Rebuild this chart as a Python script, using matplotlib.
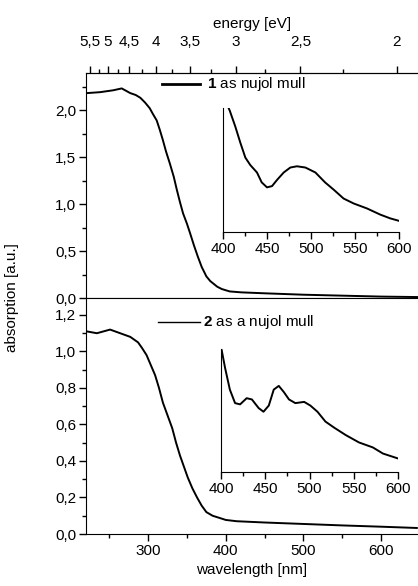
#!/usr/bin/env python
"""
Absorption spectra of 1 and 2 as nujol mulls, with energy axis on top
and zoomed insets of the visible region.
"""
import matplotlib
matplotlib.use('Agg')
import matplotlib.pyplot as plt
from matplotlib.ticker import MultipleLocator, FixedLocator, FuncFormatter

plt.rcParams['font.family'] = ['Liberation Sans', 'DejaVu Sans']
plt.rcParams['mathtext.fontset'] = 'custom'
plt.rcParams['mathtext.rm'] = 'Liberation Sans'
plt.rcParams['mathtext.bf'] = 'Liberation Sans:bold'

# compound 1, full spectrum
wl_1 = [221, 238, 255, 266, 277, 284, 290, 296, 302, 306, 311, 315, 319,
        323, 328, 333, 337, 341, 345, 350, 354, 359, 364, 369, 375, 380,
        389, 395, 405, 420, 450, 500, 550, 600, 648]
abs_1 = [2.18, 2.19, 2.21, 2.23, 2.18, 2.16, 2.13, 2.08, 2.02, 1.96, 1.89,
         1.79, 1.68, 1.56, 1.43, 1.29, 1.15, 1.02, 0.90, 0.79, 0.69, 0.56,
         0.44, 0.33, 0.23, 0.18, 0.12, 0.095, 0.07, 0.06, 0.05, 0.035, 0.025,
         0.015, 0.01]

# compound 1, inset 400-600 nm
wl_1i = [400, 407.6, 414, 419.7, 425.4, 431, 438.6, 444, 450, 455.7, 461.4,
         469, 476.5, 484, 493.6, 505, 516, 526, 537, 548.5, 563.6, 578.8,
         590, 600]
abs_1i = [1.10, 0.98, 0.85, 0.72, 0.60, 0.54, 0.48, 0.40, 0.36, 0.37, 0.42,
          0.48, 0.52, 0.53, 0.52, 0.48, 0.40, 0.34, 0.27, 0.23, 0.19, 0.14,
          0.11, 0.09]

# compound 2, full spectrum
wl_2 = [221, 234, 251, 264, 277, 287, 292, 298, 303, 309, 314, 319, 325,
        331, 336, 341, 346, 351, 357, 363, 369, 375, 383, 392, 400, 414,
        450, 500, 550, 600, 646]
abs_2 = [1.11, 1.10, 1.12, 1.10, 1.08, 1.05, 1.02, 0.98, 0.93, 0.87, 0.80,
         0.72, 0.65, 0.58, 0.50, 0.43, 0.37, 0.31, 0.25, 0.20, 0.155, 0.12,
         0.10, 0.088, 0.077, 0.07, 0.063, 0.055, 0.047, 0.04, 0.033]

# compound 2, inset 400-600 nm
wl_2i = [400.8, 404.5, 410, 415.9, 421.6, 429, 434.9, 442.5, 448, 454,
         459.6, 465.3, 471, 476.8, 484, 494, 501, 509, 518, 528, 541, 556,
         571.5, 583, 600]
abs_2i = [0.99, 0.85, 0.67, 0.56, 0.55, 0.60, 0.59, 0.52, 0.49, 0.54, 0.67,
          0.70, 0.65, 0.59, 0.56, 0.57, 0.54, 0.49, 0.41, 0.36, 0.30, 0.24,
          0.20, 0.15, 0.11]

energy_ticks = [5.5, 5, 4.5, 4, 3.5, 3, 2.5, 2]
energy_minor = [5.25, 4.75, 4.25, 3.75, 3.25, 2.75, 2.25]

W, H = 418, 586
FS = 11

comma = FuncFormatter(lambda v, p: ('%.1f' % v).replace('.', ','))


def frac(x0, y0, x1, y1):
    # pixel box -> figure fraction rect
    return [x0 / W, 1 - y1 / H, (x1 - x0) / W, (y1 - y0) / H]


def style_ticks(ax):
    ax.tick_params(which='major', direction='out', length=5, width=1,
                   labelsize=FS, pad=2)
    ax.tick_params(which='minor', direction='out', length=3, width=1)


fig = plt.figure(figsize=(W / 100, H / 100), dpi=100)

ax1 = fig.add_axes(frac(86, 73, 418, 298))
ax2 = fig.add_axes(frac(86, 298, 418, 534))

ax1.plot(wl_1, abs_1, color='black', lw=1.4)
ax2.plot(wl_2, abs_2, color='black', lw=1.4)

for ax in (ax1, ax2):
    ax.set_xlim(220, 647.5)
    ax.spines['right'].set_visible(False)
    style_ticks(ax)
    ax.yaxis.set_major_formatter(comma)

ax1.set_ylim(0, 2.394)
ax1.yaxis.set_major_locator(MultipleLocator(0.5))
ax1.yaxis.set_minor_locator(MultipleLocator(0.25))
ax1.tick_params(axis='x', which='both', bottom=False, labelbottom=False)

ax2.set_ylim(0, 1.293)
ax2.yaxis.set_major_locator(MultipleLocator(0.2))
ax2.yaxis.set_minor_locator(MultipleLocator(0.1))
ax2.xaxis.set_major_locator(MultipleLocator(100))
ax2.xaxis.set_minor_locator(MultipleLocator(50))
ax2.set_xlabel('wavelength [nm]', fontsize=FS, labelpad=4)

# energy axis on top
sec = ax1.secondary_xaxis('top', functions=(lambda x: 1240.0 / x,
                                            lambda e: 1240.0 / e))
sec.xaxis.set_major_locator(FixedLocator(energy_ticks))
sec.xaxis.set_minor_locator(FixedLocator(energy_minor))
sec.xaxis.set_major_formatter(FuncFormatter(
    lambda v, p: ('%g' % v).replace('.', ',')))
sec.tick_params(which='major', direction='out', length=5, width=1,
                labelsize=FS, pad=12)
sec.tick_params(which='minor', direction='out', length=3, width=1)
sec.set_xlabel('energy [eV]', fontsize=FS, labelpad=5)

fig.text(12 / W, 1 - 298 / H, 'absorption [a.u.]', rotation=90,
         ha='center', va='center', fontsize=FS)

# legends drawn by hand
fig.add_artist(plt.Line2D([162 / W, 200 / W], [1 - 84 / H] * 2,
                          color='black', lw=2))
fig.text(207 / W, 1 - 84 / H, r'$\mathbf{1}$ as nujol mull',
         fontsize=FS, va='center')
fig.add_artist(plt.Line2D([158 / W, 200 / W], [1 - 322 / H] * 2,
                          color='black', lw=1))
fig.text(203 / W, 1 - 322 / H, r'$\mathbf{2}$ as a nujol mull',
         fontsize=FS, va='center')

# insets
ins1 = fig.add_axes(frac(223, 108, 399, 232))
ins1.plot(wl_1i, abs_1i, color='black', lw=1.4)
ins2 = fig.add_axes(frac(221, 349, 398, 472))
ins2.plot(wl_2i, abs_2i, color='black', lw=1.4)

for ins in (ins1, ins2):
    ins.set_xlim(400, 600)
    ins.set_ylim(0, 1.0)
    ins.set_facecolor('none')
    for s in ('top', 'right'):
        ins.spines[s].set_visible(False)
    ins.xaxis.set_major_locator(MultipleLocator(50))
    ins.xaxis.set_minor_locator(MultipleLocator(25))
    ins.set_yticks([])
    style_ticks(ins)

fig.savefig('out.png', dpi=100)
